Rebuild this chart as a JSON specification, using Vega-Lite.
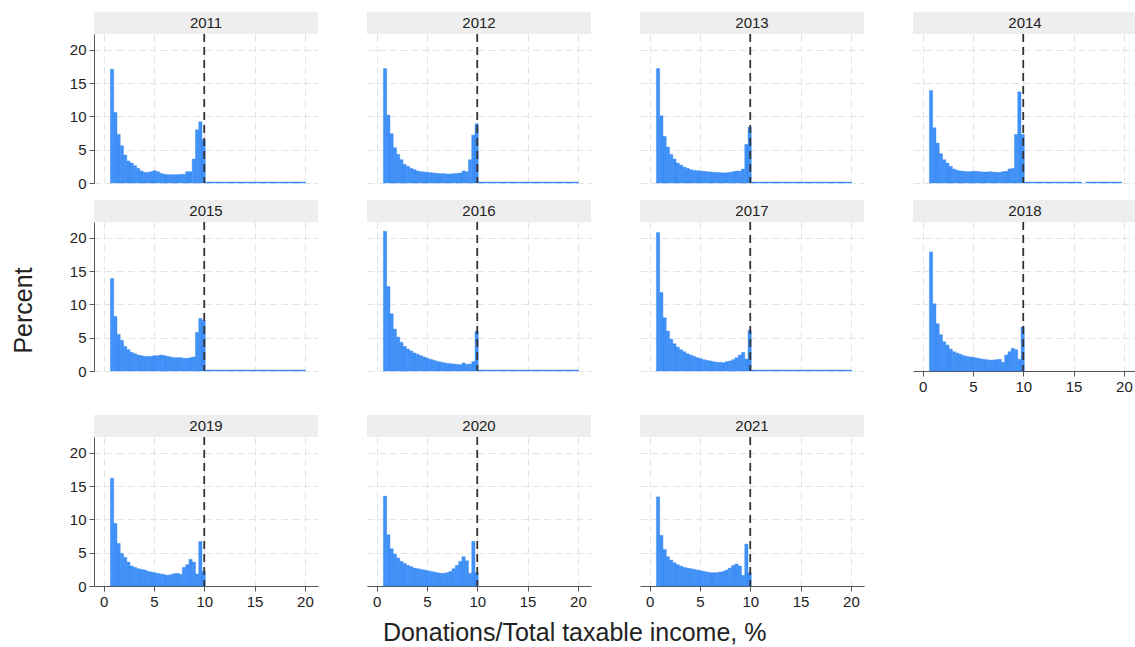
{
"$schema":"https://vega.github.io/schema/vega-lite/v6.json",
"padding":{"left":12,"top":12,"right":0,"bottom":5},
"datasets":{"h":[
{"year":2011,"b":0.68,"e":1.005,"p":17.1},{"year":2011,"b":1.005,"e":1.33,"p":10.6},{"year":2011,"b":1.33,"e":1.655,"p":7.3},{"year":2011,"b":1.655,"e":1.98,"p":5.6},{"year":2011,"b":1.98,"e":2.305,"p":4.2},{"year":2011,"b":2.305,"e":2.63,"p":3.3},{"year":2011,"b":2.63,"e":2.955,"p":3.0},{"year":2011,"b":2.955,"e":3.28,"p":2.6},{"year":2011,"b":3.28,"e":3.605,"p":2.2},{"year":2011,"b":3.605,"e":3.93,"p":1.8},{"year":2011,"b":3.93,"e":4.255,"p":1.6},{"year":2011,"b":4.255,"e":4.58,"p":1.6},{"year":2011,"b":4.58,"e":4.905,"p":1.7},{"year":2011,"b":4.905,"e":5.23,"p":1.85},{"year":2011,"b":5.23,"e":5.555,"p":1.7},{"year":2011,"b":5.555,"e":5.88,"p":1.45},{"year":2011,"b":5.88,"e":6.205,"p":1.3},{"year":2011,"b":6.205,"e":6.53,"p":1.25},{"year":2011,"b":6.53,"e":6.855,"p":1.25},{"year":2011,"b":6.855,"e":7.18,"p":1.25},{"year":2011,"b":7.18,"e":7.505,"p":1.25},{"year":2011,"b":7.505,"e":7.83,"p":1.3},{"year":2011,"b":7.83,"e":8.155,"p":1.3},{"year":2011,"b":8.155,"e":8.48,"p":1.7},{"year":2011,"b":8.48,"e":8.805,"p":1.7},{"year":2011,"b":8.805,"e":9.13,"p":3.6},{"year":2011,"b":9.13,"e":9.455,"p":8.0},{"year":2011,"b":9.455,"e":9.78,"p":9.2},{"year":2011,"b":9.78,"e":10.105,"p":6.5},{"year":2011,"b":10.105,"e":20.05,"p":0.15},
{"year":2012,"b":0.68,"e":1.005,"p":17.2},{"year":2012,"b":1.005,"e":1.33,"p":10.2},{"year":2012,"b":1.33,"e":1.655,"p":7.4},{"year":2012,"b":1.655,"e":1.98,"p":5.3},{"year":2012,"b":1.98,"e":2.305,"p":4.3},{"year":2012,"b":2.305,"e":2.63,"p":3.5},{"year":2012,"b":2.63,"e":2.955,"p":2.8},{"year":2012,"b":2.955,"e":3.28,"p":2.5},{"year":2012,"b":3.28,"e":3.605,"p":2.2},{"year":2012,"b":3.605,"e":3.93,"p":2.0},{"year":2012,"b":3.93,"e":4.255,"p":1.8},{"year":2012,"b":4.255,"e":4.58,"p":1.7},{"year":2012,"b":4.58,"e":4.905,"p":1.65},{"year":2012,"b":4.905,"e":5.23,"p":1.6},{"year":2012,"b":5.23,"e":5.555,"p":1.55},{"year":2012,"b":5.555,"e":5.88,"p":1.5},{"year":2012,"b":5.88,"e":6.205,"p":1.45},{"year":2012,"b":6.205,"e":6.53,"p":1.4},{"year":2012,"b":6.53,"e":6.855,"p":1.4},{"year":2012,"b":6.855,"e":7.18,"p":1.35},{"year":2012,"b":7.18,"e":7.505,"p":1.35},{"year":2012,"b":7.505,"e":7.83,"p":1.4},{"year":2012,"b":7.83,"e":8.155,"p":1.45},{"year":2012,"b":8.155,"e":8.48,"p":1.5},{"year":2012,"b":8.48,"e":8.805,"p":1.8},{"year":2012,"b":8.805,"e":9.13,"p":1.7},{"year":2012,"b":9.13,"e":9.455,"p":3.5},{"year":2012,"b":9.455,"e":9.78,"p":7.2},{"year":2012,"b":9.78,"e":10.105,"p":8.9},{"year":2012,"b":10.105,"e":20.05,"p":0.15},
{"year":2013,"b":0.68,"e":1.005,"p":17.2},{"year":2013,"b":1.005,"e":1.33,"p":10.1},{"year":2013,"b":1.33,"e":1.655,"p":7.0},{"year":2013,"b":1.655,"e":1.98,"p":5.4},{"year":2013,"b":1.98,"e":2.305,"p":4.3},{"year":2013,"b":2.305,"e":2.63,"p":3.6},{"year":2013,"b":2.63,"e":2.955,"p":3.0},{"year":2013,"b":2.955,"e":3.28,"p":2.7},{"year":2013,"b":3.28,"e":3.605,"p":2.4},{"year":2013,"b":3.605,"e":3.93,"p":2.2},{"year":2013,"b":3.93,"e":4.255,"p":2.0},{"year":2013,"b":4.255,"e":4.58,"p":1.9},{"year":2013,"b":4.58,"e":4.905,"p":1.85},{"year":2013,"b":4.905,"e":5.23,"p":1.8},{"year":2013,"b":5.23,"e":5.555,"p":1.75},{"year":2013,"b":5.555,"e":5.88,"p":1.7},{"year":2013,"b":5.88,"e":6.205,"p":1.65},{"year":2013,"b":6.205,"e":6.53,"p":1.6},{"year":2013,"b":6.53,"e":6.855,"p":1.6},{"year":2013,"b":6.855,"e":7.18,"p":1.55},{"year":2013,"b":7.18,"e":7.505,"p":1.5},{"year":2013,"b":7.505,"e":7.83,"p":1.55},{"year":2013,"b":7.83,"e":8.155,"p":1.6},{"year":2013,"b":8.155,"e":8.48,"p":1.7},{"year":2013,"b":8.48,"e":8.805,"p":1.8},{"year":2013,"b":8.805,"e":9.13,"p":1.8},{"year":2013,"b":9.13,"e":9.455,"p":2.1},{"year":2013,"b":9.455,"e":9.78,"p":5.8},{"year":2013,"b":9.78,"e":10.105,"p":8.4},{"year":2013,"b":10.105,"e":20.05,"p":0.15},
{"year":2014,"b":0.68,"e":1.005,"p":13.9},{"year":2014,"b":1.005,"e":1.33,"p":8.3},{"year":2014,"b":1.33,"e":1.655,"p":6.0},{"year":2014,"b":1.655,"e":1.98,"p":4.4},{"year":2014,"b":1.98,"e":2.305,"p":3.5},{"year":2014,"b":2.305,"e":2.63,"p":3.0},{"year":2014,"b":2.63,"e":2.955,"p":2.5},{"year":2014,"b":2.955,"e":3.28,"p":2.1},{"year":2014,"b":3.28,"e":3.605,"p":1.9},{"year":2014,"b":3.605,"e":3.93,"p":1.8},{"year":2014,"b":3.93,"e":4.255,"p":1.75},{"year":2014,"b":4.255,"e":4.58,"p":1.7},{"year":2014,"b":4.58,"e":4.905,"p":1.7},{"year":2014,"b":4.905,"e":5.23,"p":1.75},{"year":2014,"b":5.23,"e":5.555,"p":1.75},{"year":2014,"b":5.555,"e":5.88,"p":1.7},{"year":2014,"b":5.88,"e":6.205,"p":1.65},{"year":2014,"b":6.205,"e":6.53,"p":1.65},{"year":2014,"b":6.53,"e":6.855,"p":1.7},{"year":2014,"b":6.855,"e":7.18,"p":1.65},{"year":2014,"b":7.18,"e":7.505,"p":1.6},{"year":2014,"b":7.505,"e":7.83,"p":1.6},{"year":2014,"b":7.83,"e":8.155,"p":1.7},{"year":2014,"b":8.155,"e":8.48,"p":1.75},{"year":2014,"b":8.48,"e":8.805,"p":2.1},{"year":2014,"b":8.805,"e":9.13,"p":2.2},{"year":2014,"b":9.13,"e":9.455,"p":7.3},{"year":2014,"b":9.455,"e":9.78,"p":13.7},{"year":2014,"b":9.78,"e":10.105,"p":7.3},{"year":2014,"b":10.105,"e":15.8,"p":0.15},{"year":2014,"b":16.2,"e":19.8,"p":0.15},
{"year":2015,"b":0.68,"e":1.005,"p":13.9},{"year":2015,"b":1.005,"e":1.33,"p":8.2},{"year":2015,"b":1.33,"e":1.655,"p":5.5},{"year":2015,"b":1.655,"e":1.98,"p":4.6},{"year":2015,"b":1.98,"e":2.305,"p":3.7},{"year":2015,"b":2.305,"e":2.63,"p":3.2},{"year":2015,"b":2.63,"e":2.955,"p":2.8},{"year":2015,"b":2.955,"e":3.28,"p":2.6},{"year":2015,"b":3.28,"e":3.605,"p":2.4},{"year":2015,"b":3.605,"e":3.93,"p":2.3},{"year":2015,"b":3.93,"e":4.255,"p":2.2},{"year":2015,"b":4.255,"e":4.58,"p":2.2},{"year":2015,"b":4.58,"e":4.905,"p":2.2},{"year":2015,"b":4.905,"e":5.23,"p":2.3},{"year":2015,"b":5.23,"e":5.555,"p":2.3},{"year":2015,"b":5.555,"e":5.88,"p":2.4},{"year":2015,"b":5.88,"e":6.205,"p":2.3},{"year":2015,"b":6.205,"e":6.53,"p":2.2},{"year":2015,"b":6.53,"e":6.855,"p":2.1},{"year":2015,"b":6.855,"e":7.18,"p":2.0},{"year":2015,"b":7.18,"e":7.505,"p":2.0},{"year":2015,"b":7.505,"e":7.83,"p":2.0},{"year":2015,"b":7.83,"e":8.155,"p":1.9},{"year":2015,"b":8.155,"e":8.48,"p":1.9},{"year":2015,"b":8.48,"e":8.805,"p":2.0},{"year":2015,"b":8.805,"e":9.13,"p":2.1},{"year":2015,"b":9.13,"e":9.455,"p":5.8},{"year":2015,"b":9.455,"e":9.78,"p":7.9},{"year":2015,"b":9.78,"e":10.105,"p":7.6},{"year":2015,"b":10.105,"e":20.05,"p":0.15},
{"year":2016,"b":0.68,"e":1.005,"p":21.0},{"year":2016,"b":1.005,"e":1.33,"p":12.7},{"year":2016,"b":1.33,"e":1.655,"p":8.6},{"year":2016,"b":1.655,"e":1.98,"p":6.3},{"year":2016,"b":1.98,"e":2.305,"p":5.1},{"year":2016,"b":2.305,"e":2.63,"p":4.3},{"year":2016,"b":2.63,"e":2.955,"p":3.7},{"year":2016,"b":2.955,"e":3.28,"p":3.3},{"year":2016,"b":3.28,"e":3.605,"p":3.0},{"year":2016,"b":3.605,"e":3.93,"p":2.7},{"year":2016,"b":3.93,"e":4.255,"p":2.5},{"year":2016,"b":4.255,"e":4.58,"p":2.3},{"year":2016,"b":4.58,"e":4.905,"p":2.1},{"year":2016,"b":4.905,"e":5.23,"p":1.9},{"year":2016,"b":5.23,"e":5.555,"p":1.75},{"year":2016,"b":5.555,"e":5.88,"p":1.6},{"year":2016,"b":5.88,"e":6.205,"p":1.45},{"year":2016,"b":6.205,"e":6.53,"p":1.35},{"year":2016,"b":6.53,"e":6.855,"p":1.25},{"year":2016,"b":6.855,"e":7.18,"p":1.15},{"year":2016,"b":7.18,"e":7.505,"p":1.1},{"year":2016,"b":7.505,"e":7.83,"p":1.05},{"year":2016,"b":7.83,"e":8.155,"p":1.0},{"year":2016,"b":8.155,"e":8.48,"p":0.95},{"year":2016,"b":8.48,"e":8.805,"p":1.2},{"year":2016,"b":8.805,"e":9.13,"p":1.0},{"year":2016,"b":9.13,"e":9.455,"p":1.05},{"year":2016,"b":9.455,"e":9.78,"p":1.4},{"year":2016,"b":9.78,"e":10.105,"p":6.0},{"year":2016,"b":10.105,"e":20.05,"p":0.15},
{"year":2017,"b":0.68,"e":1.005,"p":20.8},{"year":2017,"b":1.005,"e":1.33,"p":11.8},{"year":2017,"b":1.33,"e":1.655,"p":8.0},{"year":2017,"b":1.655,"e":1.98,"p":6.0},{"year":2017,"b":1.98,"e":2.305,"p":4.8},{"year":2017,"b":2.305,"e":2.63,"p":4.1},{"year":2017,"b":2.63,"e":2.955,"p":3.6},{"year":2017,"b":2.955,"e":3.28,"p":3.2},{"year":2017,"b":3.28,"e":3.605,"p":2.9},{"year":2017,"b":3.605,"e":3.93,"p":2.6},{"year":2017,"b":3.93,"e":4.255,"p":2.4},{"year":2017,"b":4.255,"e":4.58,"p":2.2},{"year":2017,"b":4.58,"e":4.905,"p":2.0},{"year":2017,"b":4.905,"e":5.23,"p":1.85},{"year":2017,"b":5.23,"e":5.555,"p":1.7},{"year":2017,"b":5.555,"e":5.88,"p":1.6},{"year":2017,"b":5.88,"e":6.205,"p":1.5},{"year":2017,"b":6.205,"e":6.53,"p":1.4},{"year":2017,"b":6.53,"e":6.855,"p":1.3},{"year":2017,"b":6.855,"e":7.18,"p":1.3},{"year":2017,"b":7.18,"e":7.505,"p":1.25},{"year":2017,"b":7.505,"e":7.83,"p":1.4},{"year":2017,"b":7.83,"e":8.155,"p":1.5},{"year":2017,"b":8.155,"e":8.48,"p":1.7},{"year":2017,"b":8.48,"e":8.805,"p":2.0},{"year":2017,"b":8.805,"e":9.13,"p":2.4},{"year":2017,"b":9.13,"e":9.455,"p":2.8},{"year":2017,"b":9.455,"e":9.78,"p":1.8},{"year":2017,"b":9.78,"e":10.105,"p":6.1},{"year":2017,"b":10.105,"e":20.05,"p":0.15},
{"year":2018,"b":0.68,"e":1.005,"p":17.9},{"year":2018,"b":1.005,"e":1.33,"p":10.1},{"year":2018,"b":1.33,"e":1.655,"p":7.1},{"year":2018,"b":1.655,"e":1.98,"p":5.45},{"year":2018,"b":1.98,"e":2.305,"p":4.4},{"year":2018,"b":2.305,"e":2.63,"p":3.9},{"year":2018,"b":2.63,"e":2.955,"p":3.3},{"year":2018,"b":2.955,"e":3.28,"p":2.9},{"year":2018,"b":3.28,"e":3.605,"p":2.7},{"year":2018,"b":3.605,"e":3.93,"p":2.5},{"year":2018,"b":3.93,"e":4.255,"p":2.3},{"year":2018,"b":4.255,"e":4.58,"p":2.2},{"year":2018,"b":4.58,"e":4.905,"p":2.1},{"year":2018,"b":4.905,"e":5.23,"p":2.05},{"year":2018,"b":5.23,"e":5.555,"p":1.95},{"year":2018,"b":5.555,"e":5.88,"p":1.85},{"year":2018,"b":5.88,"e":6.205,"p":1.75},{"year":2018,"b":6.205,"e":6.53,"p":1.7},{"year":2018,"b":6.53,"e":6.855,"p":1.65},{"year":2018,"b":6.855,"e":7.18,"p":1.65},{"year":2018,"b":7.18,"e":7.505,"p":1.7},{"year":2018,"b":7.505,"e":7.83,"p":1.75},{"year":2018,"b":7.83,"e":8.155,"p":1.3},{"year":2018,"b":8.155,"e":8.48,"p":2.4},{"year":2018,"b":8.48,"e":8.805,"p":2.9},{"year":2018,"b":8.805,"e":9.13,"p":3.4},{"year":2018,"b":9.13,"e":9.455,"p":3.2},{"year":2018,"b":9.455,"e":9.78,"p":1.75},{"year":2018,"b":9.78,"e":10.105,"p":6.6},
{"year":2019,"b":0.68,"e":1.005,"p":16.2},{"year":2019,"b":1.005,"e":1.33,"p":9.4},{"year":2019,"b":1.33,"e":1.655,"p":6.4},{"year":2019,"b":1.655,"e":1.98,"p":4.9},{"year":2019,"b":1.98,"e":2.305,"p":4.3},{"year":2019,"b":2.305,"e":2.63,"p":3.6},{"year":2019,"b":2.63,"e":2.955,"p":3.0},{"year":2019,"b":2.955,"e":3.28,"p":2.8},{"year":2019,"b":3.28,"e":3.605,"p":2.6},{"year":2019,"b":3.605,"e":3.93,"p":2.5},{"year":2019,"b":3.93,"e":4.255,"p":2.4},{"year":2019,"b":4.255,"e":4.58,"p":2.2},{"year":2019,"b":4.58,"e":4.905,"p":2.1},{"year":2019,"b":4.905,"e":5.23,"p":2.0},{"year":2019,"b":5.23,"e":5.555,"p":1.9},{"year":2019,"b":5.555,"e":5.88,"p":1.8},{"year":2019,"b":5.88,"e":6.205,"p":1.7},{"year":2019,"b":6.205,"e":6.53,"p":1.6},{"year":2019,"b":6.53,"e":6.855,"p":1.7},{"year":2019,"b":6.855,"e":7.18,"p":1.85},{"year":2019,"b":7.18,"e":7.505,"p":1.9},{"year":2019,"b":7.505,"e":7.83,"p":1.75},{"year":2019,"b":7.83,"e":8.155,"p":2.8},{"year":2019,"b":8.155,"e":8.48,"p":3.2},{"year":2019,"b":8.48,"e":8.805,"p":4.0},{"year":2019,"b":8.805,"e":9.13,"p":3.6},{"year":2019,"b":9.13,"e":9.455,"p":1.8},{"year":2019,"b":9.455,"e":9.78,"p":6.7},{"year":2019,"b":9.78,"e":10.105,"p":2.2},
{"year":2020,"b":0.68,"e":1.005,"p":13.5},{"year":2020,"b":1.005,"e":1.33,"p":7.7},{"year":2020,"b":1.33,"e":1.655,"p":5.6},{"year":2020,"b":1.655,"e":1.98,"p":4.8},{"year":2020,"b":1.98,"e":2.305,"p":4.2},{"year":2020,"b":2.305,"e":2.63,"p":3.7},{"year":2020,"b":2.63,"e":2.955,"p":3.4},{"year":2020,"b":2.955,"e":3.28,"p":3.1},{"year":2020,"b":3.28,"e":3.605,"p":2.9},{"year":2020,"b":3.605,"e":3.93,"p":2.7},{"year":2020,"b":3.93,"e":4.255,"p":2.6},{"year":2020,"b":4.255,"e":4.58,"p":2.5},{"year":2020,"b":4.58,"e":4.905,"p":2.4},{"year":2020,"b":4.905,"e":5.23,"p":2.3},{"year":2020,"b":5.23,"e":5.555,"p":2.2},{"year":2020,"b":5.555,"e":5.88,"p":2.1},{"year":2020,"b":5.88,"e":6.205,"p":2.0},{"year":2020,"b":6.205,"e":6.53,"p":1.9},{"year":2020,"b":6.53,"e":6.855,"p":1.9},{"year":2020,"b":6.855,"e":7.18,"p":2.0},{"year":2020,"b":7.18,"e":7.505,"p":2.2},{"year":2020,"b":7.505,"e":7.83,"p":2.6},{"year":2020,"b":7.83,"e":8.155,"p":3.1},{"year":2020,"b":8.155,"e":8.48,"p":3.7},{"year":2020,"b":8.48,"e":8.805,"p":4.4},{"year":2020,"b":8.805,"e":9.13,"p":3.8},{"year":2020,"b":9.13,"e":9.455,"p":1.9},{"year":2020,"b":9.455,"e":9.78,"p":6.7},{"year":2020,"b":9.78,"e":10.105,"p":2.0},
{"year":2021,"b":0.68,"e":1.005,"p":13.4},{"year":2021,"b":1.005,"e":1.33,"p":7.6},{"year":2021,"b":1.33,"e":1.655,"p":5.5},{"year":2021,"b":1.655,"e":1.98,"p":4.4},{"year":2021,"b":1.98,"e":2.305,"p":3.9},{"year":2021,"b":2.305,"e":2.63,"p":3.5},{"year":2021,"b":2.63,"e":2.955,"p":3.2},{"year":2021,"b":2.955,"e":3.28,"p":3.0},{"year":2021,"b":3.28,"e":3.605,"p":2.8},{"year":2021,"b":3.605,"e":3.93,"p":2.7},{"year":2021,"b":3.93,"e":4.255,"p":2.6},{"year":2021,"b":4.255,"e":4.58,"p":2.5},{"year":2021,"b":4.58,"e":4.905,"p":2.4},{"year":2021,"b":4.905,"e":5.23,"p":2.3},{"year":2021,"b":5.23,"e":5.555,"p":2.2},{"year":2021,"b":5.555,"e":5.88,"p":2.1},{"year":2021,"b":5.88,"e":6.205,"p":2.0},{"year":2021,"b":6.205,"e":6.53,"p":2.0},{"year":2021,"b":6.53,"e":6.855,"p":2.0},{"year":2021,"b":6.855,"e":7.18,"p":2.1},{"year":2021,"b":7.18,"e":7.505,"p":2.2},{"year":2021,"b":7.505,"e":7.83,"p":2.4},{"year":2021,"b":7.83,"e":8.155,"p":2.7},{"year":2021,"b":8.155,"e":8.48,"p":3.1},{"year":2021,"b":8.48,"e":8.805,"p":3.3},{"year":2021,"b":8.805,"e":9.13,"p":3.0},{"year":2021,"b":9.13,"e":9.455,"p":1.6},{"year":2021,"b":9.455,"e":9.78,"p":6.3},{"year":2021,"b":9.78,"e":10.105,"p":2.0}
]},
"title":{"text":"Donations/Total taxable income, %","orient":"bottom","anchor":"middle","offset":12},
"vconcat":[{
"title":{"text":"Percent","orient":"left","anchor":"middle","offset":32},
"spacing":9,
"vconcat":[
{"spacing":49,"hconcat":[
{"spacing":0,"bounds":"flush","vconcat":[
{"width":224,"height":22,"view":{"fill":"#eeeeee","stroke":null},"data":{"values":[{"t":"2011"}]},"mark":{"type":"text","font":"Liberation Sans","fontSize":15,"color":"#222222"},"encoding":{"text":{"field":"t","type":"nominal"}}},
{"width":224,"height":149,"layer":[
{"data":{"name":"h"},"transform":[{"filter":"datum.year == 2011"}],"mark":{"type":"bar","color":"#4191f7","stroke":"#2b84f6","strokeWidth":0.4},
"encoding":{"x":{"field":"b","type":"quantitative","title":null,"scale":{"domain":[-0.95,21.3],"nice":false,"zero":false},"axis":{"values":[0,5,10,15,20],"labels":false,"ticks":false,"domain":false}},"x2":{"field":"e"},"y":{"field":"p","type":"quantitative","title":null,"scale":{"domain":[0,22.4],"nice":false},"axis":{"values":[0,5,10,15,20]}},"y2":{"datum":0}}},
{"data":{"values":[{"v":10}]},"mark":{"type":"rule","color":"#333333","strokeWidth":1.8,"strokeDash":[8,5]},"encoding":{"x":{"field":"v","type":"quantitative"}}}
]}]},
{"spacing":0,"bounds":"flush","vconcat":[
{"width":224,"height":22,"view":{"fill":"#eeeeee","stroke":null},"data":{"values":[{"t":"2012"}]},"mark":{"type":"text","font":"Liberation Sans","fontSize":15,"color":"#222222"},"encoding":{"text":{"field":"t","type":"nominal"}}},
{"width":224,"height":149,"layer":[
{"data":{"name":"h"},"transform":[{"filter":"datum.year == 2012"}],"mark":{"type":"bar","color":"#4191f7","stroke":"#2b84f6","strokeWidth":0.4},
"encoding":{"x":{"field":"b","type":"quantitative","title":null,"scale":{"domain":[-0.95,21.3],"nice":false,"zero":false},"axis":{"values":[0,5,10,15,20],"labels":false,"ticks":false,"domain":false}},"x2":{"field":"e"},"y":{"field":"p","type":"quantitative","title":null,"scale":{"domain":[0,22.4],"nice":false},"axis":{"values":[0,5,10,15,20],"labels":false,"ticks":false,"domain":false}},"y2":{"datum":0}}},
{"data":{"values":[{"v":10}]},"mark":{"type":"rule","color":"#333333","strokeWidth":1.8,"strokeDash":[8,5]},"encoding":{"x":{"field":"v","type":"quantitative"}}}
]}]},
{"spacing":0,"bounds":"flush","vconcat":[
{"width":224,"height":22,"view":{"fill":"#eeeeee","stroke":null},"data":{"values":[{"t":"2013"}]},"mark":{"type":"text","font":"Liberation Sans","fontSize":15,"color":"#222222"},"encoding":{"text":{"field":"t","type":"nominal"}}},
{"width":224,"height":149,"layer":[
{"data":{"name":"h"},"transform":[{"filter":"datum.year == 2013"}],"mark":{"type":"bar","color":"#4191f7","stroke":"#2b84f6","strokeWidth":0.4},
"encoding":{"x":{"field":"b","type":"quantitative","title":null,"scale":{"domain":[-0.95,21.3],"nice":false,"zero":false},"axis":{"values":[0,5,10,15,20],"labels":false,"ticks":false,"domain":false}},"x2":{"field":"e"},"y":{"field":"p","type":"quantitative","title":null,"scale":{"domain":[0,22.4],"nice":false},"axis":{"values":[0,5,10,15,20],"labels":false,"ticks":false,"domain":false}},"y2":{"datum":0}}},
{"data":{"values":[{"v":10}]},"mark":{"type":"rule","color":"#333333","strokeWidth":1.8,"strokeDash":[8,5]},"encoding":{"x":{"field":"v","type":"quantitative"}}}
]}]},
{"spacing":0,"bounds":"flush","vconcat":[
{"width":224,"height":22,"view":{"fill":"#eeeeee","stroke":null},"data":{"values":[{"t":"2014"}]},"mark":{"type":"text","font":"Liberation Sans","fontSize":15,"color":"#222222"},"encoding":{"text":{"field":"t","type":"nominal"}}},
{"width":224,"height":149,"layer":[
{"data":{"name":"h"},"transform":[{"filter":"datum.year == 2014"}],"mark":{"type":"bar","color":"#4191f7","stroke":"#2b84f6","strokeWidth":0.4},
"encoding":{"x":{"field":"b","type":"quantitative","title":null,"scale":{"domain":[-0.95,21.3],"nice":false,"zero":false},"axis":{"values":[0,5,10,15,20],"labels":false,"ticks":false,"domain":false}},"x2":{"field":"e"},"y":{"field":"p","type":"quantitative","title":null,"scale":{"domain":[0,22.4],"nice":false},"axis":{"values":[0,5,10,15,20],"labels":false,"ticks":false,"domain":false}},"y2":{"datum":0}}},
{"data":{"values":[{"v":10}]},"mark":{"type":"rule","color":"#333333","strokeWidth":1.8,"strokeDash":[8,5]},"encoding":{"x":{"field":"v","type":"quantitative"}}}
]}]}
]},
{"spacing":21,"vconcat":[
{"spacing":49,"hconcat":[
{"spacing":0,"bounds":"flush","vconcat":[
{"width":224,"height":22,"view":{"fill":"#eeeeee","stroke":null},"data":{"values":[{"t":"2015"}]},"mark":{"type":"text","font":"Liberation Sans","fontSize":15,"color":"#222222"},"encoding":{"text":{"field":"t","type":"nominal"}}},
{"width":224,"height":149,"layer":[
{"data":{"name":"h"},"transform":[{"filter":"datum.year == 2015"}],"mark":{"type":"bar","color":"#4191f7","stroke":"#2b84f6","strokeWidth":0.4},
"encoding":{"x":{"field":"b","type":"quantitative","title":null,"scale":{"domain":[-0.95,21.3],"nice":false,"zero":false},"axis":{"values":[0,5,10,15,20],"labels":false,"ticks":false,"domain":false}},"x2":{"field":"e"},"y":{"field":"p","type":"quantitative","title":null,"scale":{"domain":[0,22.4],"nice":false},"axis":{"values":[0,5,10,15,20]}},"y2":{"datum":0}}},
{"data":{"values":[{"v":10}]},"mark":{"type":"rule","color":"#333333","strokeWidth":1.8,"strokeDash":[8,5]},"encoding":{"x":{"field":"v","type":"quantitative"}}}
]}]},
{"spacing":0,"bounds":"flush","vconcat":[
{"width":224,"height":22,"view":{"fill":"#eeeeee","stroke":null},"data":{"values":[{"t":"2016"}]},"mark":{"type":"text","font":"Liberation Sans","fontSize":15,"color":"#222222"},"encoding":{"text":{"field":"t","type":"nominal"}}},
{"width":224,"height":149,"layer":[
{"data":{"name":"h"},"transform":[{"filter":"datum.year == 2016"}],"mark":{"type":"bar","color":"#4191f7","stroke":"#2b84f6","strokeWidth":0.4},
"encoding":{"x":{"field":"b","type":"quantitative","title":null,"scale":{"domain":[-0.95,21.3],"nice":false,"zero":false},"axis":{"values":[0,5,10,15,20],"labels":false,"ticks":false,"domain":false}},"x2":{"field":"e"},"y":{"field":"p","type":"quantitative","title":null,"scale":{"domain":[0,22.4],"nice":false},"axis":{"values":[0,5,10,15,20],"labels":false,"ticks":false,"domain":false}},"y2":{"datum":0}}},
{"data":{"values":[{"v":10}]},"mark":{"type":"rule","color":"#333333","strokeWidth":1.8,"strokeDash":[8,5]},"encoding":{"x":{"field":"v","type":"quantitative"}}}
]}]},
{"spacing":0,"bounds":"flush","vconcat":[
{"width":224,"height":22,"view":{"fill":"#eeeeee","stroke":null},"data":{"values":[{"t":"2017"}]},"mark":{"type":"text","font":"Liberation Sans","fontSize":15,"color":"#222222"},"encoding":{"text":{"field":"t","type":"nominal"}}},
{"width":224,"height":149,"layer":[
{"data":{"name":"h"},"transform":[{"filter":"datum.year == 2017"}],"mark":{"type":"bar","color":"#4191f7","stroke":"#2b84f6","strokeWidth":0.4},
"encoding":{"x":{"field":"b","type":"quantitative","title":null,"scale":{"domain":[-0.95,21.3],"nice":false,"zero":false},"axis":{"values":[0,5,10,15,20],"labels":false,"ticks":false,"domain":false}},"x2":{"field":"e"},"y":{"field":"p","type":"quantitative","title":null,"scale":{"domain":[0,22.4],"nice":false},"axis":{"values":[0,5,10,15,20],"labels":false,"ticks":false,"domain":false}},"y2":{"datum":0}}},
{"data":{"values":[{"v":10}]},"mark":{"type":"rule","color":"#333333","strokeWidth":1.8,"strokeDash":[8,5]},"encoding":{"x":{"field":"v","type":"quantitative"}}}
]}]},
{"spacing":0,"bounds":"flush","vconcat":[
{"width":224,"height":22,"view":{"fill":"#eeeeee","stroke":null},"data":{"values":[{"t":"2018"}]},"mark":{"type":"text","font":"Liberation Sans","fontSize":15,"color":"#222222"},"encoding":{"text":{"field":"t","type":"nominal"}}},
{"width":224,"height":149,"layer":[
{"data":{"name":"h"},"transform":[{"filter":"datum.year == 2018"}],"mark":{"type":"bar","color":"#4191f7","stroke":"#2b84f6","strokeWidth":0.4},
"encoding":{"x":{"field":"b","type":"quantitative","title":null,"scale":{"domain":[-0.95,21.3],"nice":false,"zero":false},"axis":{"values":[0,5,10,15,20]}},"x2":{"field":"e"},"y":{"field":"p","type":"quantitative","title":null,"scale":{"domain":[0,22.4],"nice":false},"axis":{"values":[0,5,10,15,20],"labels":false,"ticks":false,"domain":false}},"y2":{"datum":0}}},
{"data":{"values":[{"v":10}]},"mark":{"type":"rule","color":"#333333","strokeWidth":1.8,"strokeDash":[8,5]},"encoding":{"x":{"field":"v","type":"quantitative"}}}
]}]}
]},
{"spacing":49,"hconcat":[
{"spacing":0,"bounds":"flush","vconcat":[
{"width":224,"height":22,"view":{"fill":"#eeeeee","stroke":null},"data":{"values":[{"t":"2019"}]},"mark":{"type":"text","font":"Liberation Sans","fontSize":15,"color":"#222222"},"encoding":{"text":{"field":"t","type":"nominal"}}},
{"width":224,"height":149,"layer":[
{"data":{"name":"h"},"transform":[{"filter":"datum.year == 2019"}],"mark":{"type":"bar","color":"#4191f7","stroke":"#2b84f6","strokeWidth":0.4},
"encoding":{"x":{"field":"b","type":"quantitative","title":null,"scale":{"domain":[-0.95,21.3],"nice":false,"zero":false},"axis":{"values":[0,5,10,15,20]}},"x2":{"field":"e"},"y":{"field":"p","type":"quantitative","title":null,"scale":{"domain":[0,22.4],"nice":false},"axis":{"values":[0,5,10,15,20]}},"y2":{"datum":0}}},
{"data":{"values":[{"v":10}]},"mark":{"type":"rule","color":"#333333","strokeWidth":1.8,"strokeDash":[8,5]},"encoding":{"x":{"field":"v","type":"quantitative"}}}
]}]},
{"spacing":0,"bounds":"flush","vconcat":[
{"width":224,"height":22,"view":{"fill":"#eeeeee","stroke":null},"data":{"values":[{"t":"2020"}]},"mark":{"type":"text","font":"Liberation Sans","fontSize":15,"color":"#222222"},"encoding":{"text":{"field":"t","type":"nominal"}}},
{"width":224,"height":149,"layer":[
{"data":{"name":"h"},"transform":[{"filter":"datum.year == 2020"}],"mark":{"type":"bar","color":"#4191f7","stroke":"#2b84f6","strokeWidth":0.4},
"encoding":{"x":{"field":"b","type":"quantitative","title":null,"scale":{"domain":[-0.95,21.3],"nice":false,"zero":false},"axis":{"values":[0,5,10,15,20]}},"x2":{"field":"e"},"y":{"field":"p","type":"quantitative","title":null,"scale":{"domain":[0,22.4],"nice":false},"axis":{"values":[0,5,10,15,20],"labels":false,"ticks":false,"domain":false}},"y2":{"datum":0}}},
{"data":{"values":[{"v":10}]},"mark":{"type":"rule","color":"#333333","strokeWidth":1.8,"strokeDash":[8,5]},"encoding":{"x":{"field":"v","type":"quantitative"}}}
]}]},
{"spacing":0,"bounds":"flush","vconcat":[
{"width":224,"height":22,"view":{"fill":"#eeeeee","stroke":null},"data":{"values":[{"t":"2021"}]},"mark":{"type":"text","font":"Liberation Sans","fontSize":15,"color":"#222222"},"encoding":{"text":{"field":"t","type":"nominal"}}},
{"width":224,"height":149,"layer":[
{"data":{"name":"h"},"transform":[{"filter":"datum.year == 2021"}],"mark":{"type":"bar","color":"#4191f7","stroke":"#2b84f6","strokeWidth":0.4},
"encoding":{"x":{"field":"b","type":"quantitative","title":null,"scale":{"domain":[-0.95,21.3],"nice":false,"zero":false},"axis":{"values":[0,5,10,15,20]}},"x2":{"field":"e"},"y":{"field":"p","type":"quantitative","title":null,"scale":{"domain":[0,22.4],"nice":false},"axis":{"values":[0,5,10,15,20],"labels":false,"ticks":false,"domain":false}},"y2":{"datum":0}}},
{"data":{"values":[{"v":10}]},"mark":{"type":"rule","color":"#333333","strokeWidth":1.8,"strokeDash":[8,5]},"encoding":{"x":{"field":"v","type":"quantitative"}}}
]}]}
]}
]}
]}],
"config":{
"view":{"stroke":null},
"axis":{"grid":true,"gridColor":"#e4e4e4","gridDash":[7,4],"gridWidth":1,"domainColor":"#555555","tickColor":"#555555","tickSize":5,"labelFont":"Liberation Sans","labelFontSize":15,"labelColor":"#222222","labelPadding":3},
"title":{"font":"Liberation Sans","fontSize":25,"fontWeight":"normal","color":"#222222"}
}
}
